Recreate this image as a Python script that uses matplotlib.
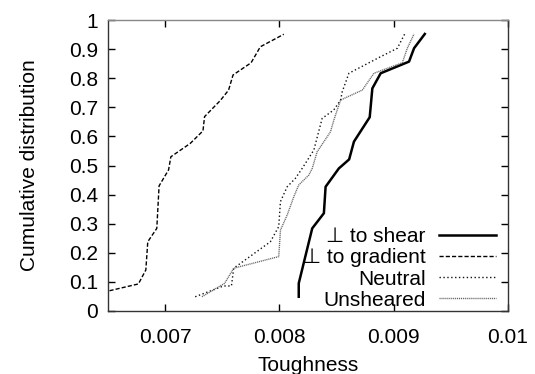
import matplotlib
matplotlib.use("Agg")
import matplotlib.pyplot as plt

plt.rcParams['font.family'] = ['Liberation Sans', 'DejaVu Sans']

# Data
grad_x = [0.00630, 0.006766, 0.006831, 0.006848, 0.006927, 0.006947, 0.00703, 0.00705,
          0.00722, 0.007331, 0.007345, 0.007482, 0.007555, 0.007594, 0.007752, 0.007833, 0.008038]
grad_y = [0.05, 0.093, 0.141, 0.238, 0.284, 0.430, 0.485, 0.530,
          0.576, 0.619, 0.668, 0.723, 0.759, 0.811, 0.853, 0.908, 0.951]

neutral_x = [0.007263, 0.00751, 0.00758, 0.0076, 0.007921, 0.007994, 0.008009, 0.008068, 0.008140,
             0.008199, 0.008301, 0.008374, 0.008476, 0.008535, 0.00855, 0.008608, 0.008886,
             0.009032, 0.009096]
neutral_y = [0.049, 0.086, 0.086, 0.147, 0.238, 0.290, 0.376, 0.427, 0.456,
             0.490, 0.553, 0.662, 0.691, 0.725, 0.754, 0.817, 0.874,
             0.903, 0.952]

unsheared_x = [0.007322, 0.00752, 0.0076, 0.007994, 0.008009, 0.008068, 0.008126, 0.008169,
               0.008257, 0.008287, 0.00833, 0.008447, 0.008476, 0.008535, 0.008725, 0.008827,
               0.009075, 0.009119, 0.009178]
unsheared_y = [0.049, 0.095, 0.147, 0.187, 0.278, 0.330, 0.393, 0.433,
               0.467, 0.490, 0.547, 0.616, 0.656, 0.725, 0.759, 0.817,
               0.853, 0.903, 0.952]

shear_x = [0.008169, 0.008169, 0.008287, 0.008389, 0.008404, 0.00852, 0.00861, 0.008652,
           0.00879, 0.008813, 0.008886, 0.009134, 0.009178, 0.009272]
shear_y = [0.049, 0.095, 0.284, 0.336, 0.427, 0.49, 0.521, 0.582,
           0.666, 0.765, 0.817, 0.857, 0.903, 0.952]

xticks = [0.007, 0.008, 0.009, 0.010]
xticklabels = ["0.007", "0.008", "0.009", "0.01"]
yticks = [0, 0.1, 0.2, 0.3, 0.4, 0.5, 0.6, 0.7, 0.8, 0.9, 1.0]
yticklabels = ["0", "0.1", "0.2", "0.3", "0.4", "0.5", "0.6", "0.7", "0.8", "0.9", "1"]

FS = 15

fig = plt.figure(figsize=(5.35, 3.74), dpi=100)
ax = fig.add_axes([108/535, 63/374, 400/535, 291/374])

ax.plot(shear_x, shear_y, color='black', lw=1.8, label='\u22a5 to shear')
ax.plot(grad_x, grad_y, color='black', lw=1.0, dashes=(3, 1.5), label='\u22a5 to gradient')
ax.plot(neutral_x, neutral_y, color='#111111', lw=1.0, dashes=(1, 1.8), label='Neutral')
ax.plot(unsheared_x, unsheared_y, color='#666666', lw=1.0, dashes=(0.8, 0.6), label='Unsheared')

ax.set_xlim(0.0065, 0.010)
ax.set_ylim(0, 1)
ax.set_xticks(xticks)
ax.set_xticklabels(xticklabels)
ax.set_yticks(yticks)
ax.set_yticklabels(yticklabels)
ax.tick_params(direction='in', top=True, right=True, length=5, width=1,
               labelsize=FS, colors='black')
ax.tick_params(axis='x', pad=12)
ax.tick_params(axis='y', pad=7)
for s in ax.spines.values():
    s.set_linewidth(1.0)
    s.set_color('#333333')
ax.spines['top'].set_color('#888888')

ax.set_xlabel('Toughness', fontsize=FS, labelpad=7)
ax.set_ylabel('Cumulative distribution', fontsize=FS, labelpad=22)

leg = ax.legend(loc='lower right', frameon=False, markerfirst=False, fontsize=FS,
                handlelength=2.7, handletextpad=0.65, labelspacing=0.1,
                borderaxespad=0.0, bbox_to_anchor=(0.99, -0.024))
vp = leg._legend_box._children[-1]._children[0]
vp.align = "right"

fig.savefig('out.png', dpi=100)
